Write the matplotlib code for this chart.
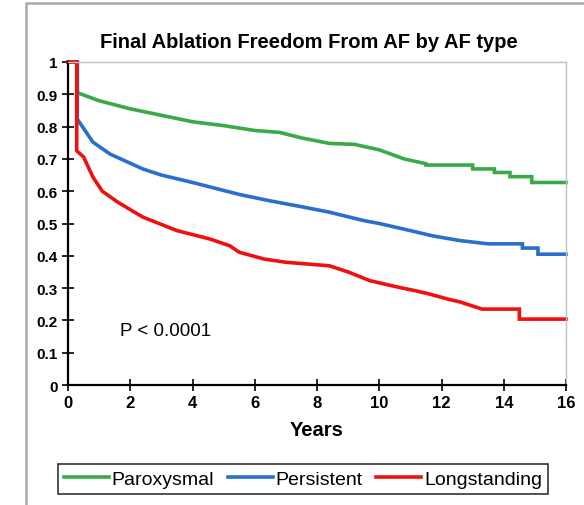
import matplotlib
matplotlib.use("Agg")
import matplotlib.pyplot as plt
from matplotlib.patches import Rectangle

# ---- data ----
title = "Final Ablation Freedom From AF by AF type"
x_label = "Years"
annotation = "P < 0.0001"
series_names = ["Paroxysmal", "Persistent", "Longstanding"]

parox_t = [0, 0.3, 0.3, 1.0, 2.0, 3.0, 4.0, 5.0, 6.0, 6.8, 7.5, 8.4, 9.2, 10.0, 10.8,
           11.5, 11.5, 13.0, 13.0, 13.7, 13.7, 14.2, 14.2, 14.9, 14.9, 16.0]
parox_s = [1.0, 1.0, 0.905, 0.88, 0.855, 0.835, 0.815, 0.803, 0.788, 0.782, 0.765, 0.748, 0.745,
           0.728, 0.70, 0.685, 0.681, 0.681, 0.669, 0.669, 0.658, 0.658, 0.645, 0.645, 0.627, 0.627]

pers_t = [0, 0.3, 0.3, 0.8, 1.35, 2.4, 3.0, 4.0, 5.5, 6.5, 7.5, 8.4, 9.5, 10.0, 11.0, 11.7,
          12.6, 13.5, 14.6, 14.6, 15.1, 15.1, 16.0]
pers_s = [1.0, 1.0, 0.823, 0.752, 0.715, 0.669, 0.65, 0.627, 0.59, 0.57, 0.552, 0.535, 0.509,
          0.50, 0.478, 0.462, 0.447, 0.437, 0.437, 0.424, 0.424, 0.405, 0.405]

long_t = [0, 0.28, 0.28, 0.5, 0.8, 1.1, 1.6, 2.4, 3.5, 4.56, 5.2, 5.5, 6.3, 7.0, 8.4, 9.0, 9.7,
          10.6, 11.2, 11.6, 12.2, 12.6, 13.3, 14.5, 14.5, 16.0]
long_s = [1.0, 1.0, 0.725, 0.706, 0.644, 0.60, 0.566, 0.52, 0.478, 0.452, 0.431, 0.411, 0.39,
          0.38, 0.369, 0.35, 0.323, 0.303, 0.291, 0.282, 0.266, 0.257, 0.235, 0.235, 0.204, 0.204]

x_ticks = [0, 2, 4, 6, 8, 10, 12, 14, 16]
y_ticks = [0, 0.1, 0.2, 0.3, 0.4, 0.5, 0.6, 0.7, 0.8, 0.9, 1]

colors = ["#3aaa48", "#2a6fc9", "#f01010"]

plt.rcParams['font.family'] = ['Liberation Sans', 'DejaVu Sans']

fig = plt.figure(figsize=(5.84, 5.06), dpi=100)
W, H = 584, 506

# outer chart frame
fig.patches.append(Rectangle((26 / W, -0.05), 1.2, 1 - 4 / H + 0.05, transform=fig.transFigure,
                             fill=False, edgecolor="#a8a8a8", linewidth=1.8))

ax = fig.add_axes([68 / W, 1 - 386 / H, (566 - 68) / W, (386 - 63) / H])

for t, s, c, n in zip([parox_t, pers_t, long_t], [parox_s, pers_s, long_s], colors, series_names):
    ax.plot(t, s, color=c, linewidth=2.6, label=n, clip_on=False, solid_joinstyle='miter')

ax.set_xlim(0, 16)
ax.set_ylim(0, 1)
ax.set_xticks(x_ticks)
ax.set_yticks(y_ticks)
ax.set_xticklabels([str(v) for v in x_ticks], fontsize=12, fontweight='bold')
ax.set_yticklabels(["%g" % v for v in y_ticks], fontsize=11, fontweight='bold')
ax.tick_params(direction='inout', length=9, width=1.2, color='black', pad=3)

for side in ['left', 'bottom']:
    ax.spines[side].set_color('black')
    ax.spines[side].set_linewidth(1.6)
for side in ['top', 'right']:
    ax.spines[side].set_color('#c0c0c0')
    ax.spines[side].set_linewidth(1.0)

ax.set_xlabel(x_label, fontsize=14.5, fontweight='bold', labelpad=7)
fig.text(309 / W, 1 - 42 / H, title, ha='center', va='center', fontsize=14.5, fontweight='bold')
ax.text(1.68, 0.17, annotation, fontsize=13.5, ha='left', va='center')

leg = fig.legend(loc='center', bbox_to_anchor=(303 / W, 1 - 480 / H), ncol=3,
                 fancybox=False, frameon=True, edgecolor='black', fontsize=14,
                 handlelength=2.3, handletextpad=0.15, columnspacing=0.7,
                 borderpad=0.3, borderaxespad=0)
leg.get_frame().set_linewidth(1.2)

fig.savefig("out.png", dpi=100)
